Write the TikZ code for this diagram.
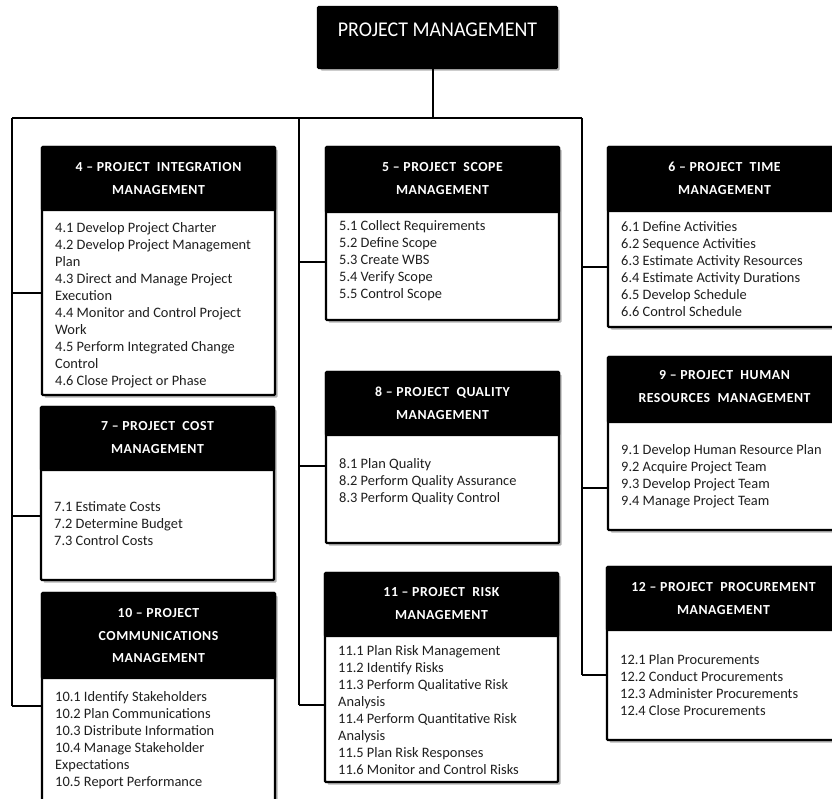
\documentclass[tikz,border=0pt]{standalone}
\usepackage{fontspec}
\setmainfont{Carlito}
\newfontfamily\headfont[LetterSpace=4]{Carlito}
\newfontfamily\titlefont[FakeStretch=0.95]{Carlito}
\usetikzlibrary{shadows}

% strut that fixes the height of the first text line
\newcommand\fstrut{\rule{0pt}{10pt}}

% a knowledge-area box: white body with a black header band
% #1 name, #2 left, #3 top, #4 width, #5 header height, #6 total height
\newcommand\pmbox[6]{%
  \node[bodybox, minimum width=#4pt, minimum height=#6pt] (#1) at ({#2+#4/2},{#3+#6/2}) {};
  \node[headbox, minimum width=#4pt, minimum height=#5pt] (#1h) at ({#2+#4/2},{#3+#5/2}) {};
}

\tikzset{
  trunk/.style={line width=2.8pt, line join=miter, draw=black},
  boxshadow/.style={drop shadow={shadow xshift=2.5pt, shadow yshift=-2.5pt, fill=black!55, opacity=.55}},
  bodybox/.style={draw=black, line width=2.2pt, fill=white, inner sep=0pt, rounded corners=1pt, boxshadow},
  headbox/.style={draw=black, line width=2.2pt, fill=black, inner sep=0pt, rounded corners=1pt},
  headtext/.style={anchor=north, inner sep=0pt, align=center, text=white,
    font=\headfont\bfseries\fontsize{13.8}{22.5}\selectfont},
  bodytext/.style={anchor=north west, inner sep=0pt, align=left, text=black!88,
    font=\fontsize{14.4}{17}\selectfont},
}

\begin{document}
\begin{tikzpicture}[x=1pt,y=-1pt]
\useasboundingbox (0,0) rectangle (832,798);
\clip (0,0) rectangle (832,798);

% --- top box
\node[headbox, boxshadow, minimum width=239pt, minimum height=61pt] (top) at (437.5,37.5) {};
\node[anchor=north, inner sep=0pt, text=white, font=\titlefont\fontsize{21}{24}\selectfont]
  (toptext) at (437.5,23) {\fstrut PROJECT MANAGEMENT};

% --- trunk lines
\coordinate (jt) at (433,118);
\coordinate (L) at (12,118);
\coordinate (M) at (299,118);
\coordinate (R) at (582,118);
\coordinate (Lend) at (12,706);
\coordinate (Mend) at (299,705);
\coordinate (Rend) at (582,675);
\coordinate (L4) at (12,293);
\coordinate (L7) at (12,516);
\coordinate (M5) at (299,262);
\coordinate (M8) at (299,466);
\coordinate (R6) at (582,267);
\coordinate (R9) at (582,488);

\draw[trunk] (top.south -| jt) -- (jt);
\draw[trunk] (L) -- (R);
\draw[trunk] (L) -- (Lend);
\draw[trunk] (M) -- (Mend);
\draw[trunk] (R) -- (Rend);

% --- boxes
\pmbox{b4}{42}{147}{233}{63}{248}
\pmbox{b5}{326}{147}{233}{65}{173}
\pmbox{b6}{608}{147}{233}{64}{180}
\pmbox{b7}{41}{407}{233}{63}{173}
\pmbox{b8}{326}{372}{233}{63}{171}
\pmbox{b9}{608}{357}{233}{65}{173}
\pmbox{b10}{42}{593}{233}{85}{230}
\pmbox{b11}{325}{573}{233}{63}{209}
\pmbox{b12}{607}{567}{233}{63}{173}

% --- branches into the boxes
\draw[trunk] (Lend) -- (Lend -| b10.west);
\draw[trunk] (Mend) -- (Mend -| b11.west);
\draw[trunk] (Rend) -- (Rend -| b12.west);
\draw[trunk] (L4) -- (L4 -| b4.west);
\draw[trunk] (L7) -- (L7 -| b7.west);
\draw[trunk] (M5) -- (M5 -| b5.west);
\draw[trunk] (M8) -- (M8 -| b8.west);
\draw[trunk] (R6) -- (R6 -| b6.west);
\draw[trunk] (R9) -- (R9 -| b9.west);

% --- header texts
\node[headtext] (t4) at (158.5,161.4) {\fstrut 4 – PROJECT~~INTEGRATION\\MANAGEMENT};
\node[headtext] (t5) at (442.5,161.4) {\fstrut 5 – PROJECT~~SCOPE\\MANAGEMENT};
\node[headtext] (t6) at (724.5,161.4) {\fstrut 6 – PROJECT~~TIME\\MANAGEMENT};
\node[headtext] (t7) at (157.5,420.4) {\fstrut 7 – PROJECT~~COST\\MANAGEMENT};
\node[headtext] (t8) at (442.5,386.4) {\fstrut 8 – PROJECT~~QUALITY\\MANAGEMENT};
\node[headtext] (t9) at (724.5,369.4) {\fstrut 9 – PROJECT~~HUMAN\\RESOURCES~~MANAGEMENT};
\node[headtext] (t10) at (158.5,607.4) {\fstrut 10 – PROJECT\\COMMUNICATIONS\\MANAGEMENT};
\node[headtext] (t11) at (441.5,586.4) {\fstrut 11 – PROJECT~~RISK\\MANAGEMENT};
\node[headtext] (t12) at (723.5,581.4) {\fstrut 12 – PROJECT~~PROCUREMENT\\MANAGEMENT};

% --- process lists
\node[bodytext] (l4) at (55,222.5) {\fstrut 4.1 Develop Project Charter\\
  4.2 Develop Project Management\\Plan\\
  4.3 Direct and Manage Project\\Execution\\
  4.4 Monitor and Control Project\\Work\\
  4.5 Perform Integrated Change\\Control\\
  4.6 Close Project or Phase};
\node[bodytext] (l5) at (339,220.5) {\fstrut 5.1 Collect Requirements\\
  5.2 Define Scope\\5.3 Create WBS\\5.4 Verify Scope\\5.5 Control Scope};
\node[bodytext] (l6) at (621,221.5) {\fstrut 6.1 Define Activities\\
  6.2 Sequence Activities\\6.3 Estimate Activity Resources\\
  6.4 Estimate Activity Durations\\6.5 Develop Schedule\\6.6 Control Schedule};
\node[bodytext] (l7) at (54,501.5) {\fstrut 7.1 Estimate Costs\\
  7.2 Determine Budget\\7.3 Control Costs};
\node[bodytext] (l8) at (339,458.5) {\fstrut 8.1 Plan Quality\\
  8.2 Perform Quality Assurance\\8.3 Perform Quality Control};
\node[bodytext] (l9) at (621,444.5) {\fstrut 9.1 Develop Human Resource Plan\\
  9.2 Acquire Project Team\\9.3 Develop Project Team\\9.4 Manage Project Team};
\node[bodytext] (l10) at (55,691.5) {\fstrut 10.1 Identify Stakeholders\\
  10.2 Plan Communications\\10.3 Distribute Information\\
  10.4 Manage Stakeholder\\Expectations\\10.5 Report Performance};
\node[bodytext] (l11) at (338,645.5) {\fstrut 11.1 Plan Risk Management\\
  11.2 Identify Risks\\11.3 Perform Qualitative Risk\\Analysis\\
  11.4 Perform Quantitative Risk\\Analysis\\11.5 Plan Risk Responses\\
  11.6 Monitor and Control Risks};
\node[bodytext] (l12) at (620,654.5) {\fstrut 12.1 Plan Procurements\\
  12.2 Conduct Procurements\\12.3 Administer Procurements\\12.4 Close Procurements};
\end{tikzpicture}
\end{document}
